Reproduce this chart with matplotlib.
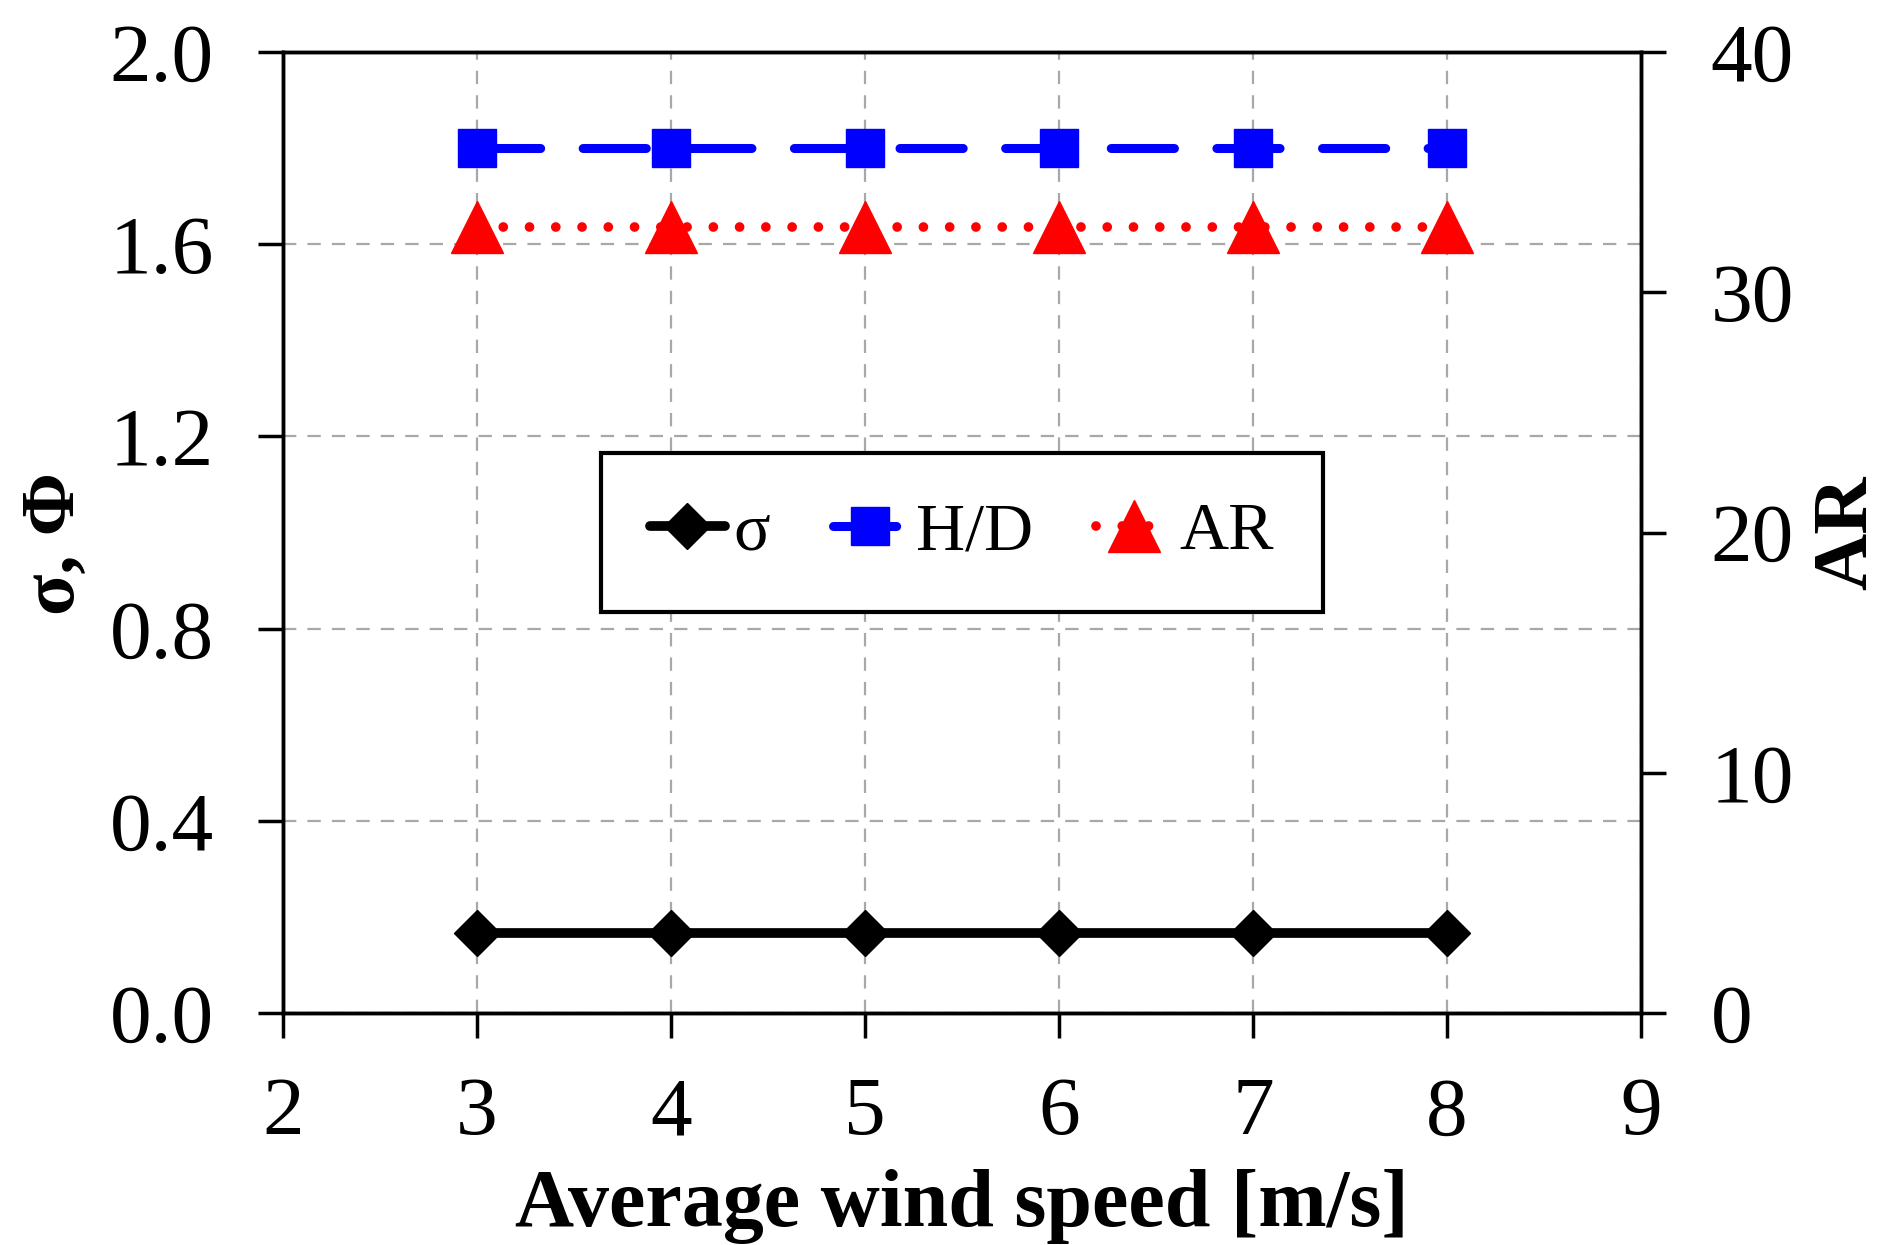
import matplotlib
matplotlib.use("Agg")
import matplotlib.pyplot as plt

plt.rcParams['font.family'] = ['Liberation Serif', 'DejaVu Serif']

# data
wind_speed = [3, 4, 5, 6, 7, 8]
sigma = [0.166, 0.166, 0.166, 0.166, 0.166, 0.166]
h_over_d = [1.8, 1.8, 1.8, 1.8, 1.8, 1.8]
aspect_ratio = [32.7, 32.7, 32.7, 32.7, 32.7, 32.7]

x_ticks = [2, 3, 4, 5, 6, 7, 8, 9]
left_ticks = [0.0, 0.4, 0.8, 1.2, 1.6, 2.0]
right_ticks = [0, 10, 20, 30, 40]
legend_labels = ['σ', 'H/D', 'AR']

W, H = 1885, 1245
fig = plt.figure(figsize=(W / 100, H / 100), dpi=100)
ax = fig.add_axes([283 / W, 1 - 1013 / H, (1641 - 283) / W, (1013 - 52) / H])
ax2 = ax.twinx()

l1, = ax.plot(wind_speed, sigma, color='black', lw=7, marker='D', ms=23,
              mec='black', mew=1, solid_capstyle='round', zorder=3)
l2, = ax.plot(wind_speed, h_over_d, color='#0000ff', lw=6.5, marker='s', ms=28,
              mec='#0000ff', mew=1, dashes=(7, 4.7), dash_capstyle='round', zorder=3)
l3, = ax2.plot(wind_speed, aspect_ratio, color='#ff0000', lw=7, marker='^', ms=37,
               mec='#ff0000', mew=1, dashes=(0.001, 2.7), dash_capstyle='round', zorder=3)

ax.set_xlim(2, 9)
ax.set_ylim(0, 2.0)
ax.set_xticks(x_ticks)
ax.set_yticks(left_ticks)
ax.set_yticklabels(['%.1f' % v for v in left_ticks])
ax2.set_ylim(0, 40)
ax2.set_yticks(right_ticks)

ax.grid(True, color='#a8a8a8', lw=1.6, linestyle=(0, (6, 5)), zorder=0)
ax.set_axisbelow(True)

for a in (ax, ax2):
    for s in a.spines.values():
        s.set_linewidth(2.5)
    a.tick_params(direction='out', length=18, width=2.5, labelsize=60, pad=32)
ax.tick_params(axis='x', pad=28)

ax.set_xlabel('Average wind speed [m/s]', fontsize=59, fontweight='bold')
ax.xaxis.set_label_coords(0.5, -0.162)
ax.set_ylabel('σ, Φ', fontsize=55, fontweight='bold')
ax.yaxis.set_label_coords(-0.142, 0.489)
ax2.set_ylabel('AR', fontsize=57, fontweight='bold')
ax2.yaxis.set_label_coords(1.126, 0.5)

leg = ax2.legend([l1, l2, l3], legend_labels, loc='center', ncol=3, fontsize=49,
                 frameon=True, fancybox=False, framealpha=1, edgecolor='black',
                 borderpad=0.72, handlelength=1.1, handletextpad=0.12,
                 columnspacing=0.93, numpoints=1)
leg.get_frame().set_linewidth(3)

fig.savefig('out.png', dpi=100)
